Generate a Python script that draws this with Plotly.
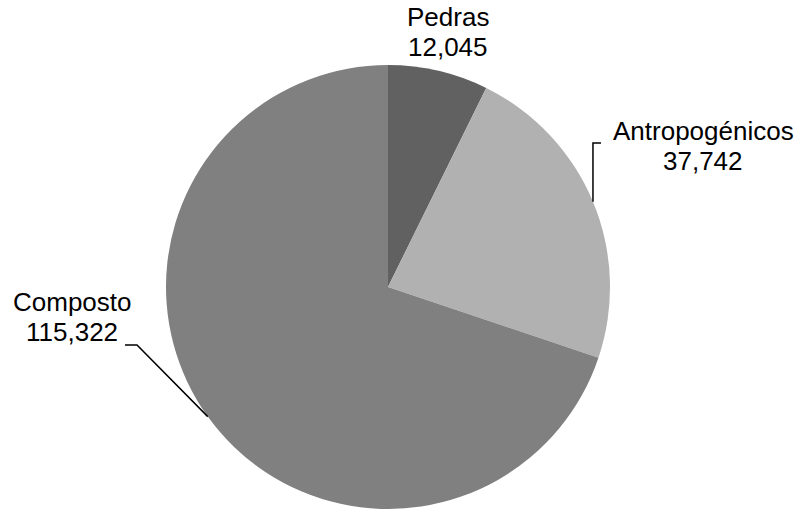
import math
import plotly.graph_objects as go

# Data
categories = ["Pedras", "Antropogénicos", "Composto"]
values = [12045, 37742, 115322]
value_labels = ["12,045", "37,742", "115,322"]
colors = ["#616161", "#b1b1b1", "#808080"]

W, H = 797, 509
cx, cy, r = 388, 287, 222  # pie centre and radius in pixels

fig = go.Figure()
fig.add_trace(go.Pie(
    labels=categories,
    values=values,
    sort=False,
    direction="clockwise",
    rotation=0,
    marker=dict(colors=colors, line=dict(width=0)),
    textinfo="none",
    hoverinfo="label+value",
    showlegend=False,
    domain=dict(x=[(cx - r) / W, (cx + r) / W], y=[(H - cy - r) / H, (H - cy + r) / H]),
))

# Mid-angle of each slice (degrees clockwise from 12 o'clock)
total = sum(values)
mids = []
acc = 0.0
for v in values:
    mids.append((acc + v / 2) / total * 360)
    acc += v


def edge_point(angle_deg):
    a = math.radians(angle_deg)
    return cx + r * math.sin(a), cy - r * math.cos(a)


font = dict(family="Liberation Sans, Arial, sans-serif", size=26, color="#000000")

# Label layout: (centre x, baseline y of first line)
label_pos = {
    "Pedras": (448, 28),
    "Antropogénicos": (703, 142),
    "Composto": (72, 313),
}
annotations = []
for name, vtxt in zip(categories, value_labels):
    x, yb = label_pos[name]
    for i, line in enumerate([name, vtxt]):
        annotations.append(dict(
            x=x, y=yb + 30 * i, xref="x", yref="y", text=line, showarrow=False,
            font=font, xanchor="center", yanchor="bottom", yshift=-6,
        ))

# Leader lines from slice edges to the labels
shapes = []
ax, ay = edge_point(mids[1])
path_a = f"M {ax},{ay} L {ax},143 L {ax + 8},143"
ex, ey = edge_point(mids[2])
path_c = f"M {ex},{ey} L 137,345 L 125,345"
for p in (path_a, path_c):
    shapes.append(dict(type="path", path=p, xref="x", yref="y",
                       line=dict(color="#000000", width=1.5)))

fig.update_layout(
    width=W, height=H,
    margin=dict(l=0, r=0, t=0, b=0),
    paper_bgcolor="white", plot_bgcolor="rgba(0,0,0,0)",
    xaxis=dict(range=[0, W], visible=False, fixedrange=True),
    yaxis=dict(range=[H, 0], visible=False, fixedrange=True),
    annotations=annotations,
    shapes=shapes,
)

fig.write_html("out.html")
